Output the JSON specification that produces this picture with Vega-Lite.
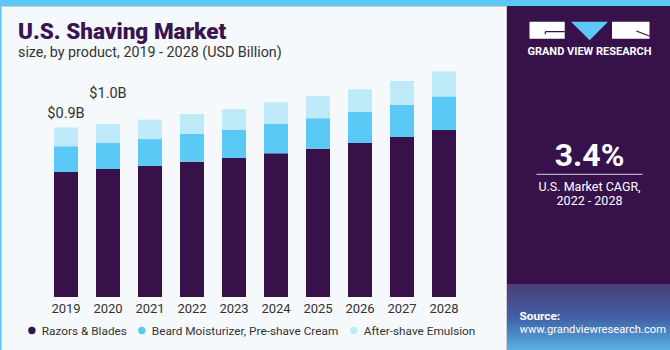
{
  "$schema": "https://vega.github.io/schema/vega-lite/v6.json",
  "background": "#5BC8F5",
  "padding": {"left": 0, "right": 0, "top": 5, "bottom": 0},
  "spacing": 0,
  "config": {
    "font": "Roboto",
    "view": {"stroke": null},
    "concat": {"spacing": 0}
  },
  "hconcat": [
    {
      "width": 505,
      "height": 345,
      "view": {"fill": "#F5F9FC", "stroke": "#CCCCCC"},
      "title": {
        "text": "U.S. Shaving Market",
        "subtitle": "size, by product, 2019 - 2028  (USD Billion)",
        "anchor": "start",
        "frame": "group",
        "dx": 17,
        "offset": -54,
        "fontSize": 22.5,
        "fontWeight": 900,
        "color": "#3A1450",
        "subtitleFontSize": 14.3,
        "subtitleColor": "#333333",
        "subtitlePadding": 2
      },
      "layer": [
        {
          "data": {
            "values": [
              {"year": "2019", "product": "Razors & Blades", "value": 0.665},
              {"year": "2019", "product": "Beard Moisturizer, Pre-shave Cream", "value": 0.137},
              {"year": "2019", "product": "After-shave Emulsion", "value": 0.099},
              {"year": "2020", "product": "Razors & Blades", "value": 0.681},
              {"year": "2020", "product": "Beard Moisturizer, Pre-shave Cream", "value": 0.138},
              {"year": "2020", "product": "After-shave Emulsion", "value": 0.101},
              {"year": "2021", "product": "Razors & Blades", "value": 0.698},
              {"year": "2021", "product": "Beard Moisturizer, Pre-shave Cream", "value": 0.142},
              {"year": "2021", "product": "After-shave Emulsion", "value": 0.103},
              {"year": "2022", "product": "Razors & Blades", "value": 0.720},
              {"year": "2022", "product": "Beard Moisturizer, Pre-shave Cream", "value": 0.147},
              {"year": "2022", "product": "After-shave Emulsion", "value": 0.106},
              {"year": "2023", "product": "Razors & Blades", "value": 0.739},
              {"year": "2023", "product": "Beard Moisturizer, Pre-shave Cream", "value": 0.151},
              {"year": "2023", "product": "After-shave Emulsion", "value": 0.109},
              {"year": "2024", "product": "Razors & Blades", "value": 0.764},
              {"year": "2024", "product": "Beard Moisturizer, Pre-shave Cream", "value": 0.157},
              {"year": "2024", "product": "After-shave Emulsion", "value": 0.114},
              {"year": "2025", "product": "Razors & Blades", "value": 0.789},
              {"year": "2025", "product": "Beard Moisturizer, Pre-shave Cream", "value": 0.162},
              {"year": "2025", "product": "After-shave Emulsion", "value": 0.119},
              {"year": "2026", "product": "Razors & Blades", "value": 0.819},
              {"year": "2026", "product": "Beard Moisturizer, Pre-shave Cream", "value": 0.165},
              {"year": "2026", "product": "After-shave Emulsion", "value": 0.121},
              {"year": "2027", "product": "Razors & Blades", "value": 0.851},
              {"year": "2027", "product": "Beard Moisturizer, Pre-shave Cream", "value": 0.172},
              {"year": "2027", "product": "After-shave Emulsion", "value": 0.126},
              {"year": "2028", "product": "Razors & Blades", "value": 0.888},
              {"year": "2028", "product": "Beard Moisturizer, Pre-shave Cream", "value": 0.179},
              {"year": "2028", "product": "After-shave Emulsion", "value": 0.133}
            ]
          },
          "mark": {"type": "bar"},
          "encoding": {
            "x": {
              "field": "year",
              "type": "ordinal",
              "scale": {"range": [44, 464], "paddingInner": 0.4286, "paddingOuter": 0.2143},
              "axis": {
                "title": null,
                "orient": "bottom",
                "offset": -49,
                "domain": false,
                "ticks": false,
                "tickSize": 0,
                "labelPadding": 0,
                "labelFontSize": 13,
                "labelColor": "#333333",
                "labelAngle": 0
              }
            },
            "y": {
              "field": "value",
              "type": "quantitative",
              "stack": "zero",
              "scale": {"domain": [0, 1.2], "range": [291, 65.4], "nice": false},
              "axis": null
            },
            "color": {
              "field": "product",
              "type": "nominal",
              "scale": {
                "domain": ["Razors & Blades", "Beard Moisturizer, Pre-shave Cream", "After-shave Emulsion"],
                "range": ["#37114A", "#5BC9F5", "#BDE9F9"]
              },
              "legend": {
                "title": null,
                "orient": "none",
                "legendX": 25,
                "legendY": 318.5,
                "direction": "horizontal",
                "symbolType": "circle",
                "symbolSize": 55,
                "symbolStrokeWidth": 0,
                "labelFontSize": 11.8,
                "labelColor": "#333333",
                "labelOffset": 4,
                "labelLimit": 400,
                "columnPadding": 9,
                "padding": 0
              }
            },
            "order": {"field": "product", "sort": "descending"}
          }
        },
        {
          "data": {"values": [{"year": "2019", "total": 0.901, "label": "$0.9B"}]},
          "mark": {"type": "text", "baseline": "middle", "dy": -14, "fontSize": 14.5, "color": "#333333"},
          "encoding": {
            "x": {"field": "year", "type": "ordinal"},
            "y": {"field": "total", "type": "quantitative"},
            "text": {"field": "label"}
          }
        },
        {
          "data": {"values": [{"year": "2020", "total": 0.92, "label": "$1.0B"}]},
          "mark": {"type": "text", "baseline": "middle", "dy": -30, "fontSize": 14.5, "color": "#333333"},
          "encoding": {
            "x": {"field": "year", "type": "ordinal"},
            "y": {"field": "total", "type": "quantitative"},
            "text": {"field": "label"}
          }
        }
      ]
    },
    {
      "width": 165,
      "height": 345,
      "view": {"fill": "#37124A", "stroke": null},
      "layer": [
        {
          "data": {"values": [{"k": 7, "k2": 10}]},
          "mark": {
            "type": "rect",
            "color": {
              "gradient": "linear", "x1": 0, "y1": 0, "x2": 0, "y2": 1,
              "stops": [
                {"offset": 0, "color": "#4B3C78"},
                {"offset": 0.5, "color": "#4160A6"},
                {"offset": 1, "color": "#5AB2E6"}
              ]
            }
          },
          "encoding": {
            "y": {"field": "k", "type": "quantitative", "axis": null,
              "scale": {"domain": [1, 2, 3, 4, 5, 6, 7, 8, 9, 10], "range": [24.2, 45.5, 150, 168.3, 181.2, 195.2, 278, 310, 323.5, 345], "zero": false, "nice": false}},
            "y2": {"field": "k2"}
          }
        },
        {
          "data": {"values": [{"k": 1}]},
          "mark": {"type": "point", "shape": "M-1,-0.142H-0.413V0.142H-1Z M0.375,-0.142H1V0.142H0.375Z", "size": 14400, "filled": true, "color": "#FFFFFF", "opacity": 1, "strokeWidth": 0},
          "encoding": {"y": {"field": "k", "type": "quantitative", "axis": null}}
        },
        {
          "data": {"values": [{"k": 1}]},
          "mark": {"type": "point", "shape": "M-0.308,-0.142L0.308,-0.142L0.003,0.168Z", "size": 14400, "filled": true, "color": "#5BC8F5", "opacity": 1, "strokeWidth": 0},
          "encoding": {"y": {"field": "k", "type": "quantitative", "axis": null}}
        },
        {
          "data": {"values": [{"k": 1}]},
          "mark": {"type": "point", "shape": "M-0.737,0.025H-0.413M-0.737,0.025V0.068M0.78,0.013L1,0.097", "size": 14400, "filled": false, "stroke": "#37124A", "opacity": 1, "strokeWidth": 1.2},
          "encoding": {"y": {"field": "k", "type": "quantitative", "axis": null}}
        },
        {
          "data": {"values": [{"k": 4}]},
          "mark": {"type": "point", "shape": "M-1,0H1", "size": 11236, "filled": false, "stroke": "#D8D2E0", "opacity": 1, "strokeWidth": 1},
          "encoding": {"y": {"field": "k", "type": "quantitative", "axis": null}}
        },
        {
          "data": {"values": [{"k": 2, "t": "GRAND VIEW RESEARCH"}]},
          "mark": {"type": "text", "baseline": "middle", "align": "center", "fontSize": 11, "fontWeight": "bold", "color": "#FFFFFF"},
          "encoding": {"y": {"field": "k", "type": "quantitative", "axis": null}, "text": {"field": "t"}}
        },
        {
          "data": {"values": [{"k": 3, "t": "3.4%"}]},
          "mark": {"type": "text", "baseline": "middle", "align": "center", "fontSize": 32, "fontWeight": "bold", "color": "#FFFFFF"},
          "encoding": {"y": {"field": "k", "type": "quantitative", "axis": null}, "text": {"field": "t"}}
        },
        {
          "data": {"values": [{"k": 5, "t": "U.S. Market CAGR,"}, {"k": 6, "t": "2022 - 2028"}]},
          "mark": {"type": "text", "baseline": "middle", "align": "center", "fontSize": 12.5, "color": "#FFFFFF"},
          "encoding": {"y": {"field": "k", "type": "quantitative", "axis": null}, "text": {"field": "t"}}
        },
        {
          "data": {"values": [{"k": 8, "t": "Source:"}]},
          "mark": {"type": "text", "baseline": "middle", "align": "left", "dx": -70, "fontSize": 11.8, "fontWeight": "bold", "color": "#FFFFFF"},
          "encoding": {"y": {"field": "k", "type": "quantitative", "axis": null}, "text": {"field": "t"}}
        },
        {
          "data": {"values": [{"k": 9, "t": "www.grandviewresearch.com"}]},
          "mark": {"type": "text", "baseline": "middle", "align": "left", "dx": -70, "fontSize": 11.2, "color": "#FFFFFF"},
          "encoding": {"y": {"field": "k", "type": "quantitative", "axis": null}, "text": {"field": "t"}}
        }
      ]
    }
  ]
}
